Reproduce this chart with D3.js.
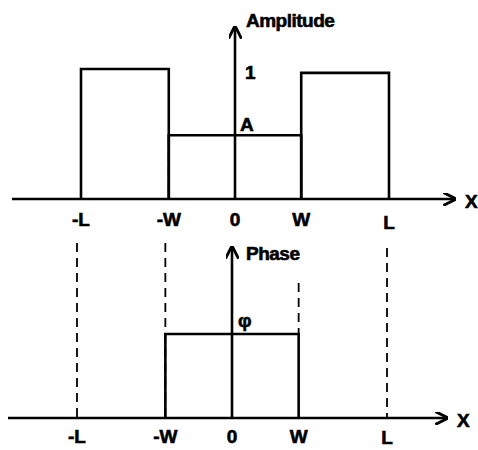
<!DOCTYPE html>
<html>
<head>
<meta charset="utf-8">
<script src="https://cdn.jsdelivr.net/npm/d3@7"></script>
<style>
  html, body { margin: 0; padding: 0; background: #fff; }
  svg text { font-family: "Liberation Sans", Arial, sans-serif; font-weight: bold; fill: #000; stroke: #000; stroke-width: 0.6; }
</style>
</head>
<body>
<svg id="chart" width="478" height="450"></svg>
<script>
// Tick positions along x (in units of L) and their labels
const tickValues = [-1, -0.43, 0, 0.43, 1];
const tickLabels = ["-L", "-W", "0", "W", "L"];

// Amplitude profile: outer bands of height 1, central band of height A
const ampSteps = [
  { x0: -1, x1: -0.43, y: 1 },
  { x0: -0.43, x1: 0.43, y: 0.49 },
  { x0: 0.43, x1: 1, y: 0.97 }
];

// Phase profile: constant φ inside |x| < W, zero outside
const phaseSteps = [{ x0: -0.43, x1: 0.43, y: 1 }];

const svg = d3.select("#chart");

svg.append("defs").append("marker")
  .attr("id", "arrow").attr("viewBox", "0 0 10 10")
  .attr("refX", 9).attr("refY", 5)
  .attr("markerWidth", 5).attr("markerHeight", 5)
  .attr("markerUnits", "strokeWidth")
  .attr("orient", "auto")
  .append("path").attr("d", "M0,0 L10,5 L0,10")
  .attr("fill", "none").attr("stroke", "#000").attr("stroke-width", 2.2);

function panel(cfg) {
  const x = d3.scaleLinear().domain([-1, 1]).range(cfg.xRange);
  const y = d3.scaleLinear().domain([0, 1]).range([cfg.base, cfg.top]);
  const g = svg.append("g");

  // x axis with arrow
  g.append("line")
    .attr("x1", cfg.axisStart).attr("x2", cfg.axisEnd)
    .attr("y1", cfg.base).attr("y2", cfg.base)
    .attr("stroke", "#000").attr("stroke-width", 2.6)
    .attr("marker-end", "url(#arrow)");
  g.append("text").attr("x", cfg.axisEnd + 10).attr("y", cfg.base + 9)
    .attr("font-size", 19).text("X");

  // y axis with arrow
  g.append("line")
    .attr("x1", x(0)).attr("x2", x(0))
    .attr("y1", cfg.base).attr("y2", cfg.yTip)
    .attr("stroke", "#000").attr("stroke-width", 2.6)
    .attr("marker-end", "url(#arrow)");
  g.append("text").attr("x", x(0) + cfg.titleDx).attr("y", cfg.yTip + cfg.titleDy)
    .attr("font-size", 19).attr("letter-spacing", -0.5).text(cfg.title);

  // dashed guides
  cfg.guides.forEach(d => {
    g.append("line")
      .attr("x1", x(d.x)).attr("x2", x(d.x))
      .attr("y1", d.y1).attr("y2", d.y2 === undefined ? cfg.base : y(d.y2))
      .attr("stroke", "#000").attr("stroke-width", 1.8)
      .attr("stroke-dasharray", "9,6");
  });

  // step profile
  cfg.steps.forEach(s => {
    g.append("path")
      .attr("d", `M${x(s.x0)},${cfg.base} V${y(s.y)} H${x(s.x1)} V${cfg.base}`)
      .attr("fill", "none").attr("stroke", "#000").attr("stroke-width", 2.6);
  });

  // value labels next to the y axis
  cfg.labels.forEach(l => {
    g.append("text").attr("x", x(0) + l.dx).attr("y", y(l.y) + l.dy)
      .attr("font-size", 19).text(l.text);
  });

  // tick labels
  g.selectAll("text.tick").data(tickValues).enter().append("text")
    .attr("class", "tick")
    .attr("x", d => x(d)).attr("y", (d, i) => cfg.base + cfg.tickDy + (i === 4 ? cfg.lastDy : 0))
    .attr("text-anchor", "middle").attr("font-size", 19)
    .text((d, i) => tickLabels[i]);
}

panel({
  xRange: [81, 389], base: 199, top: 69, yTip: 27,
  axisStart: 12, axisEnd: 455, title: "Amplitude", titleDx: 11, titleDy: 0,
  tickDy: 27, lastDy: 3,
  steps: ampSteps,
  labels: [{ text: "1", y: 1, dx: 10, dy: 10 }, { text: "A", y: 0.49, dx: 5, dy: -4 }],
  guides: [{ x: -0.43, y1: 137 }, { x: 0.43, y1: 137 }]
});

panel({
  xRange: [77, 387], base: 418, top: 334, yTip: 247,
  axisStart: 8, axisEnd: 447, title: "Phase", titleDx: 14, titleDy: 13,
  tickDy: 25, lastDy: 1,
  steps: phaseSteps,
  labels: [{ text: "φ", y: 1, dx: 6, dy: -7 }],
  guides: [
    { x: -1, y1: 243 },
    { x: -0.43, y1: 243 },
    { x: 0.43, y1: 283, y2: 1 },
    { x: 1, y1: 248 }
  ]
});
</script>
</body>
</html>
